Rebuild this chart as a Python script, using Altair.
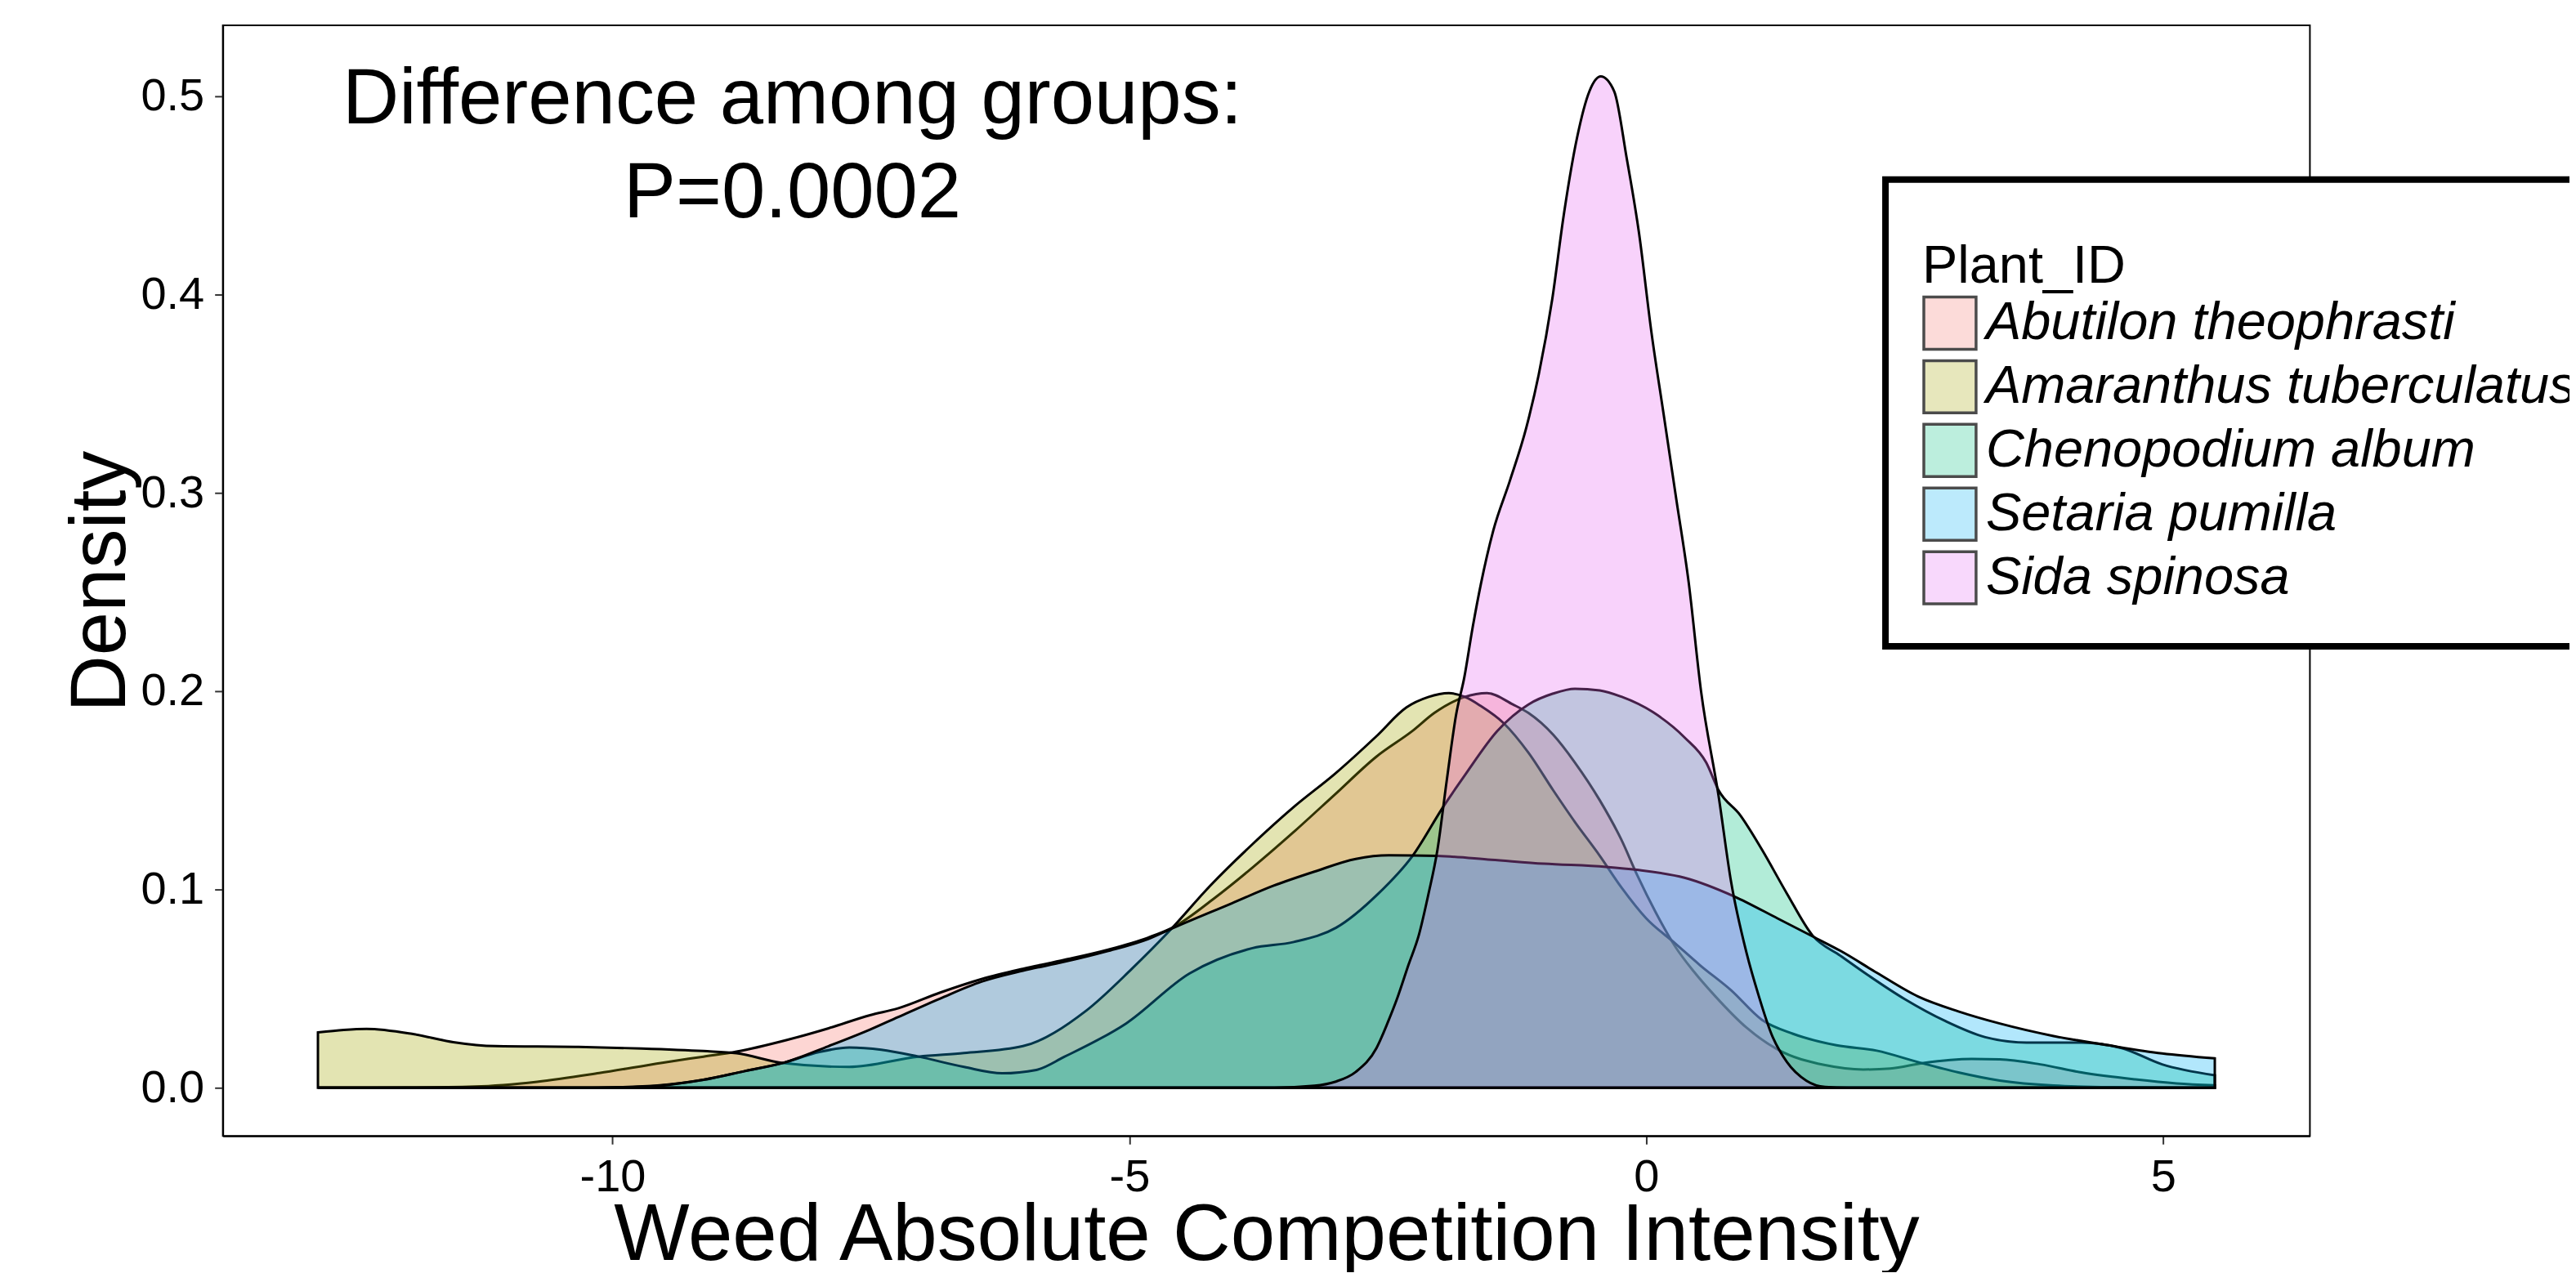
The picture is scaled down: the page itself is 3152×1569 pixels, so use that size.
import altair as alt
import pandas as pd

FONT = "Liberation Sans"

species = ["Abutilon theophrasti", "Amaranthus tuberculatus", "Chenopodium album",
           "Setaria pumilla", "Sida spinosa"]
palette = ["#F8766D", "#A3A500", "#00BF7D", "#00B0F6", "#E76BF3"]
FILL_ALPHA = 0.3
KEY_ALPHA = 0.37

abutilon_x = [-12.85, -12.0, -11.33, -10.73, -10.13, -9.52, -9.12, -8.80, -8.32, -7.91, -7.51,
              -7.24, -6.83, -6.43, -6.03, -5.63, -5.22, -4.82, -4.58, -4.18, -3.81, -3.41,
              -3.01, -2.61, -2.26, -2.05, -1.76, -1.54, -1.29, -1.14, -0.90, -0.69, -0.45,
              -0.24, -0.09, 0.09, 0.28, 0.46, 0.67, 0.97, 1.27, 1.73, 2.10, 2.36, 2.68, 3.15,
              3.42, 3.81, 4.21, 4.73, 5.13, 5.50]
abutilon_y = [0.0, 0.0001, 0.0006, 0.003, 0.0074, 0.0126, 0.0157, 0.0182, 0.024, 0.030, 0.0366,
              0.040, 0.048, 0.0548, 0.060, 0.0645, 0.0695, 0.0757, 0.0808, 0.0955, 0.111, 0.129,
              0.148, 0.167, 0.180, 0.189, 0.197, 0.199, 0.1933, 0.189, 0.178, 0.164, 0.145,
              0.125, 0.1075, 0.0886, 0.0712, 0.0586, 0.046, 0.0303, 0.0193, 0.0114, 0.0092,
              0.0097, 0.0125, 0.0145, 0.0143, 0.0118, 0.0077, 0.0042, 0.0022, 0.0012]

amaranthus_x = [-12.85, -12.6, -12.38, -11.94, -11.54, -11.13, -10.33, -9.72, -9.12, -8.80,
                -8.35, -7.71, -7.04, -6.6, -6.03, -5.42, -4.98, -4.62, -4.22, -3.81, -3.41,
                -3.01, -2.61, -2.32, -2.11, -1.91, -1.75, -1.60, -1.38, -1.14, -0.90, -0.69,
                -0.45, -0.24, 0.0, 0.28, 0.52, 0.82, 1.12, 1.42, 1.84, 2.23, 2.63, 3.02, 3.42,
                3.94, 4.5, 5.5]
amaranthus_y = [0.0279, 0.0292, 0.0297, 0.0272, 0.023, 0.021, 0.0206, 0.0198, 0.0185, 0.0174,
                0.0125, 0.0105, 0.0157, 0.0175, 0.021, 0.0388, 0.0598, 0.0787, 0.1018, 0.1228,
                0.1416, 0.1584, 0.1773, 0.1918, 0.197, 0.199, 0.197, 0.1925, 0.1839, 0.169,
                0.150, 0.134, 0.117, 0.101, 0.0854, 0.0728, 0.0618, 0.0492, 0.0342, 0.0272,
                0.0214, 0.0187, 0.0129, 0.0077, 0.0036, 0.0011, 0.0003, 0.0]

chenopodium_x = [-12.85, -10.2, -9.8, -9.59, -9.12, -8.72, -8.35, -8.0, -7.71, -7.4, -7.04,
                 -6.6, -6.23, -5.9, -5.63, -5.03, -4.42, -3.81, -3.41, -3.0, -2.6, -2.26, -1.96,
                 -1.75, -1.44, -1.14, -0.90, -0.69, -0.45, -0.24, 0.065, 0.37, 0.58, 0.70, 0.91,
                 1.12, 1.36, 1.61, 1.88, 2.10, 2.50, 2.89, 3.28, 3.68, 4.21, 4.60, 4.99, 5.5]
chenopodium_y = [0.0, 0.0, 0.0005, 0.001, 0.004, 0.0084, 0.0125, 0.018, 0.0203, 0.0192, 0.0157,
                 0.0105, 0.0073, 0.009, 0.0156, 0.0325, 0.0576, 0.0704, 0.0735, 0.0807, 0.0975,
                 0.117, 0.142, 0.158, 0.180, 0.1933, 0.1988, 0.2012, 0.2004, 0.1972, 0.1894,
                 0.1767, 0.164, 0.150, 0.1374, 0.120, 0.098, 0.0767, 0.0665, 0.0584, 0.0447,
                 0.0337, 0.0255, 0.0228, 0.0228, 0.020, 0.0118, 0.0063]

setaria_x = [-12.85, -10.2, -9.7, -9.12, -8.72, -8.35, -7.91, -7.51, -7.24, -6.83, -6.43, -6.03,
             -5.63, -5.22, -4.82, -4.58, -4.01, -3.61, -3.21, -2.81, -2.49, -2.02, -1.5, -0.99,
             -0.39, -0.09, 0.37, 0.85, 1.27, 1.64, 1.88, 2.23, 2.63, 3.02, 3.42, 3.94, 4.47,
             4.99, 5.5]
setaria_y = [0.0, 0.0, 0.0005, 0.004, 0.0084, 0.0125, 0.021, 0.0293, 0.0356, 0.045, 0.0535,
             0.059, 0.0635, 0.0688, 0.075, 0.0805, 0.093, 0.1018, 0.109, 0.1154, 0.1172, 0.1169,
             0.115, 0.113, 0.1114, 0.1099, 0.1059, 0.0965, 0.0854, 0.0755, 0.069, 0.058, 0.046,
             0.0385, 0.0324, 0.0261, 0.0214, 0.0173, 0.0148]

sida_x = [-12.85, -3.6, -3.21, -3.01, -2.81, -2.61, -2.50, -2.41, -2.30, -2.20, -2.11, -2.02,
          -1.93, -1.84, -1.76, -1.68, -1.60, -1.48, -1.32, -1.16, -1.04, -0.91, -0.80, -0.67,
          -0.55, -0.44, -0.31, -0.19, -0.07, 0.05, 0.17, 0.29, 0.41, 0.53, 0.70, 0.82, 0.97,
          1.09, 1.21, 1.36, 1.55, 1.73, 1.95, 5.5]
sida_y = [0.0, 0.0, 0.001, 0.003, 0.008, 0.020, 0.033, 0.045, 0.062, 0.077, 0.097, 0.12,
          0.155, 0.188, 0.207, 0.232, 0.254, 0.281, 0.306, 0.333, 0.3597, 0.3975, 0.4395,
          0.479, 0.5025, 0.510, 0.5025, 0.469, 0.431, 0.381, 0.339, 0.297, 0.255, 0.200,
          0.147, 0.104, 0.068, 0.046, 0.0272, 0.013, 0.0035, 0.0004, 0.0, 0.0]

x_ticks = [-10, -5, 0, 5]
y_ticks = [0.0, 0.1, 0.2, 0.3, 0.4, 0.5]

note_lines = ["Difference among groups:", "P=0.0002"]
note_x = [-8.26, -8.26]
note_y = [0.4862, 0.4391]


def on_white(hex_color, alpha):
    r, g, b = (int(hex_color[i:i + 2], 16) for i in (1, 3, 5))
    mix = [round(alpha * c + (1 - alpha) * 255) for c in (r, g, b)]
    return "#%02X%02X%02X" % tuple(mix)


legend_palette = [on_white(c, KEY_ALPHA) for c in palette]
group_codes = ["g%d" % i for i in range(len(species))]

series = [abutilon_x, amaranthus_x, chenopodium_x, setaria_x, sida_x]
values = [abutilon_y, amaranthus_y, chenopodium_y, setaria_y, sida_y]
frames = []
for code, name, xs, ys in zip(group_codes, species, series, values):
    frames.append(pd.DataFrame({"group": code, "Plant_ID": name, "wci": xs, "density": ys}))
df = pd.concat(frames, ignore_index=True)

note_df = pd.DataFrame({"wci": note_x, "density": note_y, "label": note_lines})
# legend-only keys: placed below the visible y range and clipped away
key_df = pd.DataFrame({"Plant_ID": species, "wci": [0.0] * 5, "density": [-1.0] * 5})

x_scale = alt.Scale(domain=[-13.77, 6.42], nice=False, zero=False)
y_scale = alt.Scale(domain=[-0.0243, 0.5358], nice=False, zero=False)

x_axis = alt.Axis(title="Weed Absolute Competition Intensity", values=x_ticks,
                  labelExpr="'' + datum.value", grid=False, labelFontSize=56,
                  labelPadding=13, tickSize=10, titleFontSize=98, titleY=151,
                  titleBaseline="alphabetic")
y_axis = alt.Axis(title="Density", values=y_ticks, labelExpr="format(datum.value, '.1f')",
                  grid=False, labelFontSize=56, labelPadding=13, tickSize=10,
                  titleFontSize=96, titleAngle=270, titleX=-120, titleY=681,
                  titleBaseline="alphabetic", titleAlign="center")

legend = alt.Legend(title="Plant_ID", orient="none", legendX=2037, legendY=189,
                    direction="vertical", symbolType="square", symbolSize=4096,
                    symbolStrokeColor="black", symbolStrokeWidth=3.5,
                    labelFontSize=65, labelFontStyle="italic", labelFont=FONT,
                    labelColor="black", labelLimit=2000, labelOffset=10,
                    titleFontSize=65, titleFont=FONT, titleFontWeight="normal",
                    titleColor="black", titleLimit=2000, titleBaseline="line-top",
                    titleLineHeight=124, titlePadding=32,
                    padding=45, rowPadding=0, fillColor="white", strokeColor="black")

base = alt.Chart(df)
layers = []
for code in group_codes:
    layers.append(
        base.transform_filter(alt.datum.group == code)
        .mark_area(fillOpacity=FILL_ALPHA, stroke="black", strokeWidth=3,
                   interpolate="monotone")
        .encode(
            x=alt.X("wci:Q", scale=x_scale, axis=x_axis),
            y=alt.Y("density:Q", scale=y_scale, axis=y_axis),
            y2=alt.datum(0),
            fill=alt.Fill("group:N", scale=alt.Scale(domain=group_codes, range=palette),
                          legend=None),
        )
    )

keys = alt.Chart(key_df).mark_square(
    filled=True, stroke="black", strokeWidth=3.5, clip=True, size=10
).encode(
    x=alt.X("wci:Q", scale=x_scale),
    y=alt.Y("density:Q", scale=y_scale),
    color=alt.Color("Plant_ID:N",
                    scale=alt.Scale(domain=species, range=legend_palette),
                    legend=legend),
)

note = alt.Chart(note_df).mark_text(
    fontSize=96, font=FONT, align="center", baseline="alphabetic", color="black"
).encode(
    x=alt.X("wci:Q", scale=x_scale),
    y=alt.Y("density:Q", scale=y_scale),
    text="label:N",
)

chart = alt.layer(*layers, keys, note).properties(
    width=2557, height=1361,
    padding={"left": 265, "top": 22, "right": 318, "bottom": 166},
    autosize=alt.AutoSizeParams(type="none"),
).configure_axis(
    domainColor="black", domainWidth=2, tickColor="#333333", tickWidth=2,
    labelColor="black", titleColor="black", titleFontWeight="normal",
    labelFont=FONT, titleFont=FONT,
).configure_legend(
    strokeWidth=8, cornerRadius=0,
).configure_view(
    stroke="black", strokeWidth=2,
)

chart.save("out.html", embed_options={"renderer": "svg", "actions": False})
